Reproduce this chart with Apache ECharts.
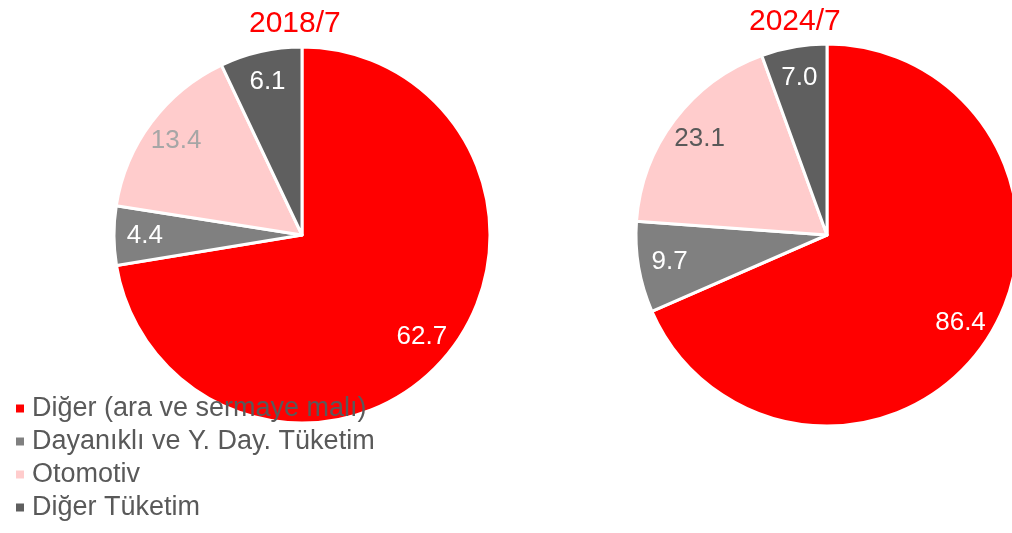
<!DOCTYPE html>
<html>
<head>
<meta charset="utf-8">
<script src="https://cdn.jsdelivr.net/npm/echarts@6/dist/echarts.min.js"></script>
<style>
html,body{margin:0;padding:0;background:#fff;}
#main{width:1012px;height:533px;}
</style>
</head>
<body>
<div id="main"></div>
<script>
// veri
var categories = ['Diğer (ara ve sermaye malı)', 'Dayanıklı ve Y. Day. Tüketim', 'Otomotiv', 'Diğer Tüketim'];
var values2018 = [62.7, 4.4, 13.4, 6.1];
var values2024 = [86.4, 9.7, 23.1, 7.0];
var periods = ['2018/7', '2024/7'];

var colors = ['#ff0000', '#808080', '#ffcccc', '#5f5f5f'];
var font = 'Liberation Sans, Arial, sans-serif';

function toItems(vals, labelColors) {
	var arr = [];
	for (var i = 0; i < vals.length; i++) {
		var it = {name: categories[i], value: vals[i]};
		if (labelColors) it.label = {color: labelColors[i]};
		arr.push(it);
	}
	return arr;
}

function pieSeries(vals, center, r) {
	// visible slices
	return {
		type: 'pie',
		center: center,
		radius: [0, r],
		startAngle: 90,
		clockwise: true,
		silent: true,
		label: {show: false},
		labelLine: {show: false},
		itemStyle: {borderColor: '#fff', borderWidth: 3},
		data: toItems(vals)
	};
}

function labelSeries(vals, center, r, labelColors) {
	// transparent ring so labels sit near the rim
	return {
		type: 'pie',
		center: center,
		radius: [r * 0.64, r],
		startAngle: 90,
		clockwise: true,
		silent: true,
		z: 5,
		itemStyle: {color: 'rgba(0,0,0,0)', borderWidth: 0},
		label: {
			show: true,
			position: 'inside',
			fontFamily: font,
			fontSize: 26,
			formatter: function (p) { return p.value.toFixed(1); }
		},
		labelLine: {show: false},
		data: toItems(vals, labelColors)
	};
}

var myChart = echarts.init(document.getElementById('main'));
var option = {
	animation: false,
	color: colors,
	title: [
		{text: periods[0], left: 244, top: 4, textStyle: {color: '#ff0000', fontFamily: font, fontSize: 30, fontWeight: 'normal'}},
		{text: periods[1], left: 744, top: 2, textStyle: {color: '#ff0000', fontFamily: font, fontSize: 30, fontWeight: 'normal'}}
	],
	legend: {
		data: categories,
		orient: 'vertical',
		left: 11,
		top: 390,
		height: 143,
		icon: 'rect',
		itemWidth: 8,
		itemHeight: 8,
		itemGap: 6,
		z: 10,
		itemStyle: {borderWidth: 0},
		textStyle: {color: '#595959', fontFamily: font, fontSize: 27, padding: [0, 0, 0, 3]}
	},
	series: [
		pieSeries(values2018, [302, 235], 188),
		pieSeries(values2024, [827, 235], 191),
		labelSeries(values2018, [302, 235], 188, ['#fff', '#fff', '#a6a6a6', '#fff']),
		labelSeries(values2024, [827, 235], 191, ['#fff', '#fff', '#595959', '#fff'])
	]
};
myChart.setOption(option);
</script>
</body>
</html>
